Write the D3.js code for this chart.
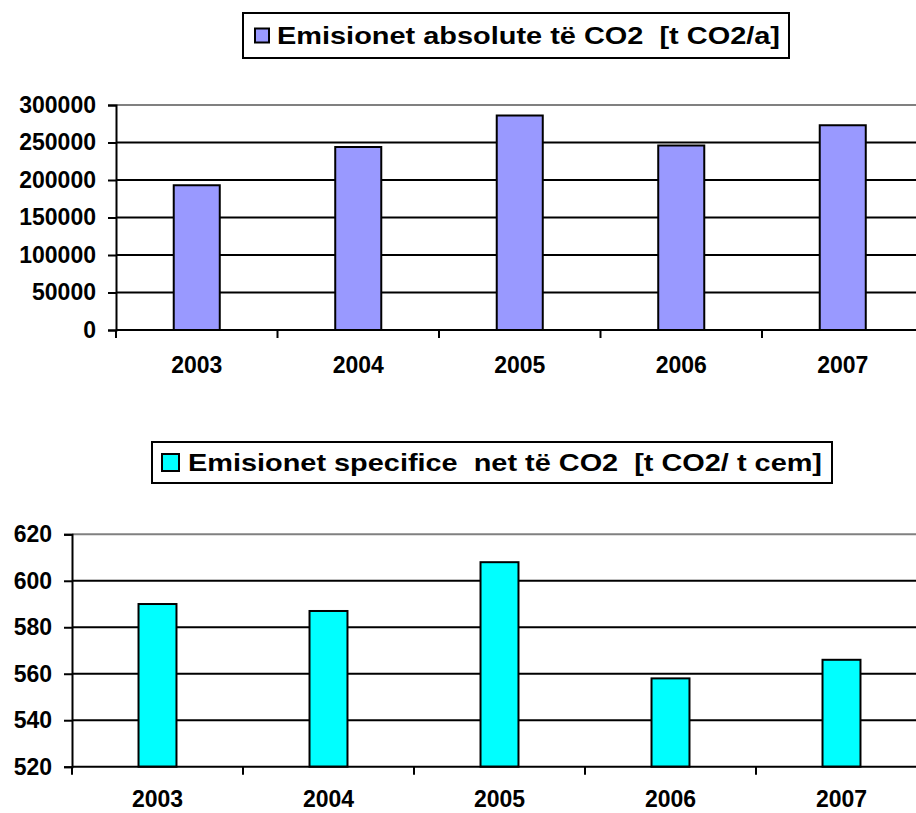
<!DOCTYPE html>
<html>
<head>
<meta charset="utf-8">
<script src="https://cdn.jsdelivr.net/npm/d3@7"></script>
<style>
  html, body { margin: 0; padding: 0; background: #fff; overflow: hidden; }
  svg { display: block; font-family: "Liberation Sans", Arial, sans-serif; font-weight: bold; }
</style>
</head>
<body>
<svg id="chart" width="916" height="813"></svg>
<script>
const years = ["2003", "2004", "2005", "2006", "2007"];
const absoluteValues = [193000, 244000, 286000, 246000, 273000];
const specificValues = [590, 587, 608, 558, 566];
const absoluteTicks = [0, 50000, 100000, 150000, 200000, 250000, 300000];
const specificTicks = [520, 540, 560, 580, 600, 620];
const absoluteLegend = "Emisionet absolute të CO2  [t CO2/a]";
const specificLegend = "Emisionet specifice  net të CO2  [t CO2/ t cem]";

const svg = d3.select("#chart");

function drawPanel(cfg) {
  const g = svg.append("g");
  const x = d3.scaleBand().domain(years).range([cfg.left, cfg.right]).padding(0);
  const y = d3.scaleLinear().domain(cfg.domain).range([cfg.bottom, cfg.top]);

  // gridlines
  g.append("g").selectAll("line")
    .data(cfg.ticks.filter(t => t !== cfg.domain[0]))
    .join("line")
    .attr("x1", cfg.left).attr("x2", cfg.right)
    .attr("y1", d => y(d)).attr("y2", d => y(d))
    .attr("stroke", d => d === cfg.domain[1] ? "#808080" : "#000")
    .attr("stroke-width", 2);

  // bars
  const bw = x.bandwidth() * cfg.barFrac;
  g.append("g").selectAll("rect")
    .data(cfg.values)
    .join("rect")
    .attr("x", (d, i) => x(years[i]) + (x.bandwidth() - bw) / 2)
    .attr("y", d => y(d))
    .attr("width", bw)
    .attr("height", d => cfg.bottom - y(d))
    .attr("fill", cfg.color)
    .attr("stroke", "#000")
    .attr("stroke-width", 2);

  // y axis
  const ya = g.append("g")
    .attr("transform", `translate(${cfg.left},0)`)
    .call(d3.axisLeft(y).tickValues(cfg.ticks).tickSize(8).tickPadding(12).tickFormat(d3.format("d")));
  ya.select(".domain").attr("stroke", "#000").attr("stroke-width", 2);
  ya.selectAll(".tick line").attr("stroke", "#000").attr("stroke-width", 2);
  ya.selectAll(".tick text").attr("font-size", cfg.fontSize).attr("font-weight", "bold")
    .attr("fill", "#000").attr("font-family", "Liberation Sans, Arial, sans-serif");

  // x axis (ticks at category boundaries)
  const xa = g.append("g").attr("transform", `translate(0,${cfg.bottom})`);
  xa.append("line").attr("x1", cfg.left).attr("x2", cfg.right).attr("y1", 0).attr("y2", 0)
    .attr("stroke", "#000").attr("stroke-width", 2);
  xa.selectAll("line.tk").data(years).join("line").attr("class", "tk")
    .attr("x1", d => x(d)).attr("x2", d => x(d)).attr("y1", 0).attr("y2", 8)
    .attr("stroke", "#000").attr("stroke-width", 2);
  xa.selectAll("text").data(years).join("text")
    .attr("x", d => x(d) + x.bandwidth() / 2)
    .attr("y", cfg.xLabelDy)
    .attr("text-anchor", "middle")
    .attr("font-size", cfg.fontSize)
    .attr("fill", "#000")
    .text(d => d);

  // legend
  const lg = g.append("g");
  lg.append("rect").attr("x", cfg.legend.x + 1).attr("y", cfg.legend.y + 1)
    .attr("width", cfg.legend.w).attr("height", cfg.legend.h).attr("fill", "#000");
  lg.append("rect").attr("x", cfg.legend.x).attr("y", cfg.legend.y)
    .attr("width", cfg.legend.w).attr("height", cfg.legend.h)
    .attr("fill", "#fff").attr("stroke", "#000").attr("stroke-width", 2);
  lg.append("rect").attr("x", cfg.legend.sx).attr("y", cfg.legend.y + (cfg.legend.h - cfg.legend.ss) / 2)
    .attr("width", cfg.legend.ss).attr("height", cfg.legend.ss)
    .attr("fill", cfg.color).attr("stroke", "#000").attr("stroke-width", 2);
  lg.append("text").attr("x", cfg.legend.tx).attr("y", cfg.legend.y + cfg.legend.h / 2)
    .attr("dy", "0.36em")
    .attr("font-size", cfg.legend.fs)
    .attr("fill", "#000")
    .attr("textLength", cfg.legend.tl).attr("lengthAdjust", "spacingAndGlyphs")
    .style("white-space", "pre")
    .text(cfg.legend.text);
}

drawPanel({
  left: 116, right: 923.5, top: 105, bottom: 330,
  domain: [0, 300000], ticks: absoluteTicks, values: absoluteValues,
  color: "#9999FF", barFrac: 0.285, fontSize: 23, xLabelDy: 43,
  legend: { x: 243, y: 13, w: 546, h: 45, sx: 255, ss: 14, tx: 277, tl: 503, fs: 24, text: absoluteLegend }
});

drawPanel({
  left: 72, right: 927, top: 534.3, bottom: 766.7,
  domain: [520, 620], ticks: specificTicks, values: specificValues,
  color: "#00FFFF", barFrac: 0.222, fontSize: 23, xLabelDy: 40,
  legend: { x: 152, y: 442, w: 680, h: 41, sx: 162, ss: 17, tx: 188, tl: 634, fs: 24, text: specificLegend }
});
</script>
</body>
</html>
